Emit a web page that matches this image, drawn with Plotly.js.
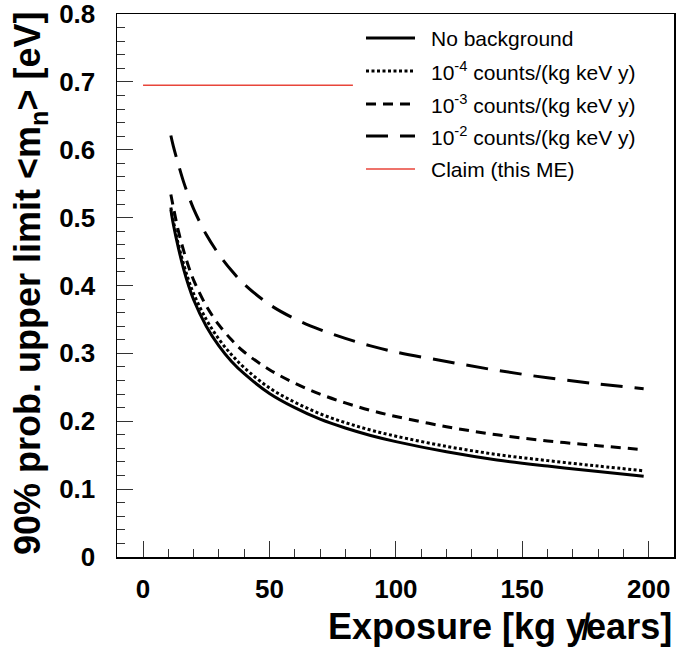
<!DOCTYPE html>
<html>
<head>
<meta charset="utf-8">
<script src="https://cdn.plot.ly/plotly-3.0.1.min.js"></script>
<style>html,body{margin:0;padding:0;background:#fff;}#chart{width:679px;height:649px;}</style>
</head>
<body>
<div id="chart"></div>
<script>
// Exposure values (kg years)
const exposure = [11, 12, 14, 16, 18, 20, 25, 30, 35, 40, 50, 60, 70, 80, 90, 100, 120, 140, 160, 180, 198];
// 90% upper limits (eV)
const noBackground = [0.512, 0.49, 0.455, 0.425, 0.40, 0.379, 0.34, 0.311, 0.288, 0.27, 0.241, 0.22, 0.203, 0.19, 0.179, 0.17, 0.155, 0.143, 0.134, 0.126, 0.119];
const bkg1e4 = [0.515, 0.495, 0.46, 0.432, 0.408, 0.388, 0.35, 0.321, 0.298, 0.279, 0.249, 0.228, 0.211, 0.198, 0.187, 0.178, 0.163, 0.151, 0.142, 0.134, 0.127];
const bkg1e3 = [0.534, 0.515, 0.48, 0.452, 0.428, 0.408, 0.37, 0.342, 0.32, 0.302, 0.276, 0.256, 0.24, 0.227, 0.216, 0.207, 0.192, 0.18, 0.171, 0.164, 0.158];
const bkg1e2 = [0.621, 0.605, 0.578, 0.553, 0.532, 0.513, 0.475, 0.446, 0.422, 0.402, 0.372, 0.351, 0.335, 0.322, 0.311, 0.302, 0.288, 0.275, 0.264, 0.255, 0.248];
// Claim line
const claimX = [0, 83];
const claimY = [0.695, 0.695];
// Tick labels
const yTickVals = [0, 0.1, 0.2, 0.3, 0.4, 0.5, 0.6, 0.7, 0.8];
const yTickText = ["0", "0.1", "0.2", "0.3", "0.4", "0.5", "0.6", "0.7", "0.8"];
const xTickVals = [0, 50, 100, 150, 200];
const xTickText = ["0", "50", "100", "150", "200"];
const legendNames = ["No background", "10<sup>-4</sup> counts/(kg keV y)", "10<sup>-3</sup> counts/(kg keV y)", "10<sup>-2</sup> counts/(kg keV y)", "Claim (this ME)"];
const xTitle = 'Exposure [kg y\u0338ears]';
const yTitle = '90% prob. upper limit &lt;m<sub>n</sub>&gt; [eV]';

const styles = [
  {color: '#000', width: 3, dash: 'solid'},
  {color: '#000', width: 3, dash: '3px,2.5px'},
  {color: '#000', width: 3, dash: '10px,7px'},
  {color: '#000', width: 3, dash: '22px,12px'},
  {color: '#e8453a', width: 1.5, dash: 'solid'}
];
const seriesY = [noBackground, bkg1e4, bkg1e3, bkg1e2];

const traces = seriesY.map((ys, i) => ({
  x: exposure, y: ys, name: legendNames[i], mode: 'lines',
  line: {color: styles[i].color, width: styles[i].width, dash: styles[i].dash, shape: 'spline'}
}));
traces.push({x: claimX, y: claimY, name: legendNames[4], mode: 'lines',
  line: {color: styles[4].color, width: styles[4].width}});

// Hand-drawn legend (ROOT style, long line samples)
const L = 117, R = 5, T = 14, B = 92, W = 679, H = 649;
const pw = W - L - R, ph = H - T - B;
const px2x = p => (p - L) / pw;
const py2y = p => (H - B - p) / ph;
const rowY = [38, 71, 104, 136, 169];
const shapes = [], annotations = [];
legendNames.forEach((name, i) => {
  shapes.push({type: 'line', xref: 'paper', yref: 'paper',
    x0: px2x(366), x1: px2x(415), y0: py2y(rowY[i]), y1: py2y(rowY[i]),
    line: {color: styles[i].color, width: styles[i].width, dash: styles[i].dash}});
  annotations.push({xref: 'paper', yref: 'paper', x: px2x(429), y: py2y(rowY[i]),
    xanchor: 'left', yanchor: 'middle', showarrow: false, text: name,
    font: {family: 'Liberation Sans, Arial, sans-serif', size: 21, color: '#000'}});
});

const titleFont = {family: 'Liberation Sans, Arial, sans-serif', color: '#000', weight: 'bold'};
// Axis titles (ROOT right-aligned placement)
annotations.push({xref: 'paper', yref: 'paper', x: px2x(674), y: py2y(627),
  xanchor: 'right', yanchor: 'middle', showarrow: false, text: xTitle,
  font: Object.assign({size: 36}, titleFont)});
annotations.push({xref: 'paper', yref: 'paper', x: px2x(30), y: py2y(283),
  xanchor: 'center', yanchor: 'middle', showarrow: false, text: yTitle, textangle: -90,
  font: Object.assign({size: 36}, titleFont)});

const tickFont = {family: 'Liberation Sans, Arial, sans-serif', size: 26, color: '#000', weight: 'bold'};
const layout = {
  width: W, height: H,
  margin: {l: L, r: R, t: T, b: B},
  paper_bgcolor: '#fff', plot_bgcolor: '#fff',
  showlegend: false,
  shapes: shapes,
  annotations: annotations,
  xaxis: {
    range: [-10.3, 210], showgrid: false, zeroline: false,
    showline: true, mirror: true, linecolor: '#000', linewidth: 1.5,
    ticks: 'inside', ticklen: 16, tickwidth: 1, tickcolor: '#333',
    tickmode: 'array', tickvals: xTickVals, ticktext: xTickText,
    minor: {ticks: 'inside', ticklen: 8, dtick: 10, tick0: 0, tickcolor: '#333', tickwidth: 1, showgrid: false},
    tickfont: tickFont, ticklabelstandoff: 8, ticklabeloverflow: 'allow',
    automargin: false
  },
  yaxis: {
    range: [0, 0.8], showgrid: false, zeroline: false,
    showline: true, mirror: true, linecolor: '#000', linewidth: 1.5,
    ticks: 'inside', ticklen: 16, tickwidth: 1, tickcolor: '#333',
    tickmode: 'array', tickvals: yTickVals, ticktext: yTickText,
    minor: {ticks: 'inside', ticklen: 8, dtick: 0.02, tick0: 0, tickcolor: '#333', tickwidth: 1, showgrid: false},
    tickfont: tickFont, ticklabelstandoff: 15, ticklabeloverflow: 'allow',
    automargin: false
  }
};

Plotly.newPlot('chart', traces, layout, {displayModeBar: false, staticPlot: true});
</script>
</body>
</html>
